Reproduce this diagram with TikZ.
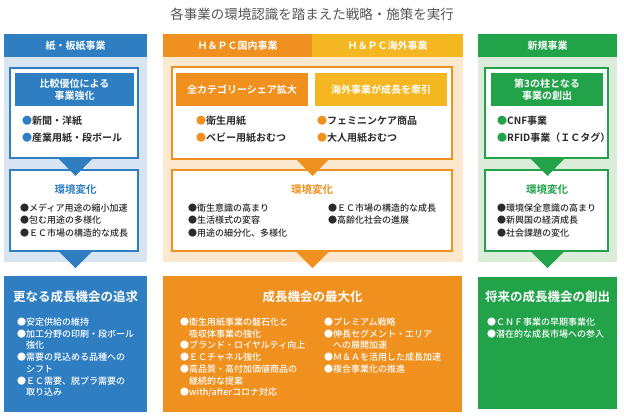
\documentclass[tikz,border=0pt]{standalone}
\usepackage{fontspec}
\setmainfont{Noto Sans CJK JP}[BoldFont={Noto Sans CJK JP Bold}]
\newfontfamily\medfont{Noto Sans CJK JP Medium}
\definecolor{cblue}{HTML}{2F7EC2}
\definecolor{lblue}{HTML}{D9E4F3}
\definecolor{corange}{HTML}{EF901F}
\definecolor{cyellow}{HTML}{F4B722}
\definecolor{lorange}{HTML}{FCE7CF}
\definecolor{cgreen}{HTML}{22A34A}
\definecolor{lgreen}{HTML}{DCECDA}
\definecolor{txt}{HTML}{2B2B2B}
\definecolor{ttlgray}{HTML}{555555}
\begin{document}
\begin{tikzpicture}[x=1pt,y=-1pt,
  hdr/.style={font=\fontsize{10}{12}\selectfont\bfseries, text=white, inner sep=0},
  boxttl/.style={font=\fontsize{10}{12.5}\selectfont\bfseries, text=white, align=center, inner sep=0},
  itm/.style={font=\fontsize{10}{17}\selectfont\bfseries, text=txt, anchor=north west, inner sep=0, align=left},
  envttl/.style={font=\fontsize{10.5}{12}\selectfont\bfseries, inner sep=0},
  env/.style={font=\medfont\fontsize{9}{12.5}\selectfont, text=txt, anchor=north west, inner sep=0, align=left},
  bttl/.style={font=\fontsize{12.5}{15}\selectfont\bfseries, text=white, inner sep=0},
  bitm/.style={font=\medfont\fontsize{9}{11.75}\selectfont, text=white, anchor=north west, inner sep=0, align=left},
  framebox/.style={draw=#1, line width=1.5pt, fill=white}
]
\useasboundingbox (0,0) rectangle (624,416);
\node[font=\fontsize{13.5}{15}\selectfont, text=ttlgray, inner sep=0] (title) at (312,14) {各事業の環境認識を踏まえた戦略・施策を実行};

% ---------- panels ----------
\fill[lblue] (4,57) rectangle (147,262);
\fill[lorange] (163,57) rectangle (463,262);
\fill[lgreen] (478,57) rectangle (617,262);
\fill[cblue] (4,34) rectangle (147,57);
\fill[corange] (163,34) rectangle (312,57);
\fill[cyellow] (312,34) rectangle (463,57);
\fill[cgreen] (478,34) rectangle (617,57);
\node[hdr] (h1) at (75.5,46) {紙・板紙事業};
\node[hdr] (h2) at (237.5,46) {Ｈ＆ＰＣ国内事業};
\node[hdr] (h3) at (387.5,46) {Ｈ＆ＰＣ海外事業};
\node[hdr] (h4) at (547.5,46) {新規事業};

% ---------- strategy boxes ----------
\draw[framebox=cblue] (10,68) rectangle (138,158);
\draw[framebox=corange] (172,67) rectangle (452,159);
\draw[framebox=cgreen] (485,68) rectangle (608,158);
\fill[cblue] (15,73) rectangle (134,106);
\fill[corange] (176,73) rectangle (308,106);
\fill[cyellow] (315,73) rectangle (447,106);
\fill[cgreen] (491,73) rectangle (603,106);
\node[boxttl] (s1) at (74.5,89.5) {比較優位による\\事業強化};
\node[boxttl] (s2) at (242,89.5) {全カテゴリーシェア拡大};
\node[boxttl] (s3) at (381,89.5) {海外事業が成長を牽引};
\node[boxttl] (s4) at (547,89.5) {第3の柱となる\\事業の創出};
\node[itm] (i1) at (22,116) {{\color{cblue}●}新聞・洋紙\\{\color{cblue}●}産業用紙・段ボール};
\node[itm] (i2) at (196,116) {{\color{corange}●}衛生用紙\\{\color{corange}●}ベビー用紙おむつ};
\node[itm] (i3) at (317,116) {{\color{corange}●}フェミニンケア商品\\{\color{corange}●}大人用紙おむつ};
\node[itm] (i4) at (497,116) {{\color{cgreen}●}CNF事業\\{\color{cgreen}●}RFID事業（ＩＣタグ）};

% ---------- environment boxes ----------
\draw[framebox=cblue] (10,170) rectangle (138,251);
\draw[framebox=corange] (172,170) rectangle (452,251);
\draw[framebox=cgreen] (485,170) rectangle (608,251);
\node[envttl, text=cblue] (e1) at (75.5,190) {環境変化};
\node[envttl, text=corange] (e2) at (312,190) {環境変化};
\node[envttl, text=cgreen] (e4) at (547,190) {環境変化};
\node[env] (n1) at (20,203.5) {●メディア用途の縮小加速\\●包む用途の多様化\\●ＥＣ市場の構造的な成長};
\node[env] (n2) at (188,203.5) {●衛生意識の高まり\\●生活様式の変容\\●用途の細分化、多様化};
\node[env] (n3) at (328,203.5) {●ＥＣ市場の構造的な成長\\●高齢化社会の進展};
\node[env] (n4) at (497,203.5) {●環境保全意識の高まり\\●新興国の経済成長\\●社会課題の変化};

% ---------- triangles ----------
\foreach \cx/\cc in {75.5/cblue, 312.5/corange, 547.5/cgreen}{
  \fill[\cc] (\cx-17,158.5) -- (\cx+17,158.5) -- (\cx,176) -- cycle;
  \fill[\cc] (\cx-17,251) -- (\cx+17,251) -- (\cx,268) -- cycle;
}

% ---------- bottom boxes ----------
\fill[cblue] (4,276) rectangle (147,412);
\fill[corange] (163,276) rectangle (462,412);
\fill[cgreen] (478,277) rectangle (617,409);
\node[bttl] (b1) at (75.5,297) {更なる成長機会の追求};
\node[bttl] (b2) at (312.5,297) {成長機会の最大化};
\node[bttl] (b4) at (547.5,297) {将来の成長機会の創出};
\node[bitm] (m1) at (17,317.5) {●安定供給の維持\\●加工分野の印刷・段ボール\\\hspace*{1em}強化\\●需要の見込める品種への\\\hspace*{1em}シフト\\●ＥＣ需要、脱プラ需要の\\\hspace*{1em}取り込み};
\node[bitm] (m2) at (180,317.5) {●衛生用紙事業の盤石化と\\\hspace*{1em}吸収体事業の強化\\●ブランド・ロイヤルティ向上\\●ＥＣチャネル強化\\●高品質・高付加価値商品の\\\hspace*{1em}継続的な提案\\●with/afterコロナ対応};
\node[bitm] (m3) at (324,317.5) {●プレミアム戦略\\●伸長セグメント・エリア\\\hspace*{1em}への展開加速\\●Ｍ＆Ａを活用した成長加速\\●複合事業化の推進};
\node[bitm] (m4) at (487,317.5) {●ＣＮＦ事業の早期事業化\\●潜在的な成長市場への参入};
\end{tikzpicture}
\end{document}
